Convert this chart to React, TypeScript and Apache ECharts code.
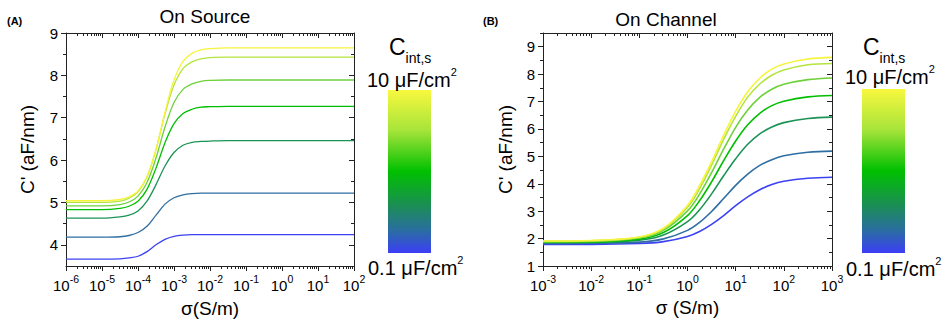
import React, { useEffect, useRef } from "react";
import * as echarts from "echarts";

// ---- Data ----
const curveNames = ["10 μF/cm²", "5 μF/cm²", "2 μF/cm²", "1 μF/cm²", "0.5 μF/cm²", "0.2 μF/cm²", "0.1 μF/cm²"];
const curveColors = ["#f6f43c", "#b4e43e", "#6ed13a", "#00bf00", "#1c9356", "#2f6ea2", "#3c42f2"];

// Panel A (On Source): log10(σ) sample points
const expA = [-6, -5, -4.5, -4.25, -4, -3.75, -3.5, -3.25, -3, -2.75, -2.5, -2.25, -2, -1.5, -1, 0, 1, 2];
const a10 = [5.04, 5.04, 5.07, 5.13, 5.27, 5.61, 6.25, 7.13, 7.89, 8.33, 8.52, 8.6, 8.63, 8.65, 8.65, 8.65, 8.65, 8.65];
const a5 = [5.0, 5.0, 5.03, 5.1, 5.25, 5.6, 6.25, 7.09, 7.77, 8.16, 8.32, 8.39, 8.42, 8.43, 8.43, 8.43, 8.43, 8.43];
const a2 = [4.92, 4.92, 4.95, 5.01, 5.15, 5.47, 6.05, 6.78, 7.36, 7.67, 7.8, 7.86, 7.88, 7.89, 7.89, 7.89, 7.89, 7.89];
const a1 = [4.83, 4.83, 4.86, 4.91, 5.03, 5.31, 5.81, 6.41, 6.86, 7.1, 7.2, 7.25, 7.26, 7.27, 7.27, 7.27, 7.27, 7.27];
const a05 = [4.63, 4.63, 4.66, 4.7, 4.8, 5.03, 5.42, 5.86, 6.18, 6.35, 6.42, 6.44, 6.45, 6.46, 6.46, 6.46, 6.46, 6.46];
const a02 = [4.18, 4.18, 4.19, 4.22, 4.29, 4.44, 4.7, 4.96, 5.11, 5.18, 5.21, 5.22, 5.22, 5.22, 5.22, 5.22, 5.22, 5.22];
const a01 = [3.66, 3.66, 3.67, 3.69, 3.73, 3.84, 4.0, 4.13, 4.2, 4.23, 4.24, 4.24, 4.24, 4.24, 4.24, 4.24, 4.24, 4.24];

// Panel B (On Channel)
const expB = [-3, -2, -1, -0.5, 0, 0.25, 0.5, 0.75, 1, 1.25, 1.5, 1.75, 2, 2.5, 3];
const b10 = [1.91, 1.93, 2.06, 2.38, 3.21, 3.93, 4.8, 5.77, 6.65, 7.36, 7.85, 8.18, 8.37, 8.55, 8.61];
const b5 = [1.9, 1.92, 2.05, 2.35, 3.14, 3.82, 4.68, 5.62, 6.46, 7.16, 7.64, 7.96, 8.15, 8.34, 8.39];
const b2 = [1.89, 1.9, 2.02, 2.3, 3.01, 3.62, 4.41, 5.26, 6.06, 6.69, 7.15, 7.45, 7.63, 7.8, 7.86];
const b1 = [1.87, 1.88, 1.98, 2.22, 2.84, 3.38, 4.07, 4.84, 5.56, 6.15, 6.57, 6.85, 7.01, 7.17, 7.22];
const b05 = [1.85, 1.86, 1.94, 2.13, 2.62, 3.05, 3.63, 4.29, 4.91, 5.44, 5.82, 6.07, 6.23, 6.38, 6.43];
const b02 = [1.82, 1.83, 1.87, 1.99, 2.3, 2.59, 2.99, 3.46, 3.94, 4.35, 4.67, 4.88, 5.02, 5.15, 5.19];
const b01 = [1.79, 1.79, 1.82, 1.89, 2.08, 2.26, 2.52, 2.84, 3.2, 3.52, 3.78, 3.97, 4.09, 4.2, 4.24];

// Axis ticks
const decadesA = [-6, -5, -4, -3, -2, -1, 0, 1, 2];
const decadesB = [-3, -2, -1, 0, 1, 2, 3];
const minorMult = [2, 3, 4, 5, 6, 7, 8, 9];
const yMajorA = [4, 5, 6, 7, 8, 9];
const yMinorA = [4.5, 5.5, 6.5, 7.5, 8.5];
const yMajorB = [1, 2, 3, 4, 5, 6, 7, 8, 9];
const yMinorB = [1.5, 2.5, 3.5, 4.5, 5.5, 6.5, 7.5, 8.5, 9.5];

const FONT = "'Liberation Sans', Arial, sans-serif";

function majors(decs: number[]) {
  return decs.map((d) => Math.pow(10, d));
}
function minors(decs: number[]) {
  const out: number[] = [];
  for (let i = 0; i < decs.length - 1; i++) {
    for (const m of minorMult) out.push(m * Math.pow(10, decs[i]));
  }
  return out;
}

const axisLineStyle = { color: "#222", width: 1 };

function xAxes(grid: number, decs: number[], name: string, nameGap: number) {
  const min = Math.pow(10, decs[0]);
  const max = Math.pow(10, decs[decs.length - 1]);
  const base = {
    type: "log" as const,
    logBase: 10,
    gridIndex: grid,
    min,
    max,
    splitLine: { show: false },
    minorTick: { show: false },
    minorSplitLine: { show: false },
  };
  return [
    {
      ...base,
      position: "bottom",
      axisLine: { show: true, onZero: false, lineStyle: axisLineStyle },
      axisTick: { show: true, inside: false, length: 5, customValues: majors(decs), lineStyle: axisLineStyle },
      axisLabel: {
        show: true,
        margin: 7,
        customValues: majors(decs),
        color: "#000",
        formatter: (v: number) => `{b|10}{s|${Math.round(Math.log10(v))}}`,
        rich: {
          b: { fontSize: 15, fontFamily: FONT, color: "#000", verticalAlign: "bottom", lineHeight: 20 },
          s: { fontSize: 10.5, fontFamily: FONT, color: "#000", verticalAlign: "top", lineHeight: 11 },
        },
      },
      name,
      nameLocation: "middle",
      nameGap,
      nameTextStyle: { fontSize: 19, fontFamily: FONT, color: "#000" },
    },
    {
      ...base,
      position: "bottom",
      axisLine: { show: false, onZero: false },
      axisTick: { show: true, inside: false, length: 3, customValues: minors(decs), lineStyle: axisLineStyle },
      axisLabel: { show: false },
    },
    {
      ...base,
      position: "top",
      axisLine: { show: true, onZero: false, lineStyle: axisLineStyle },
      axisTick: { show: true, inside: true, length: 5, customValues: majors(decs), lineStyle: axisLineStyle },
      axisLabel: { show: false },
    },
    {
      ...base,
      position: "top",
      axisLine: { show: false, onZero: false },
      axisTick: { show: true, inside: true, length: 3, customValues: minors(decs), lineStyle: axisLineStyle },
      axisLabel: { show: false },
    },
  ];
}

function yAxes(grid: number, min: number, max: number, maj: number[], mino: number[], nameGap: number) {
  const base = {
    type: "value" as const,
    gridIndex: grid,
    min,
    max,
    interval: 0.5,
    splitLine: { show: false },
  };
  return [
    {
      ...base,
      position: "left",
      axisLine: { show: true, onZero: false, lineStyle: axisLineStyle },
      axisTick: { show: true, inside: false, length: 5, customValues: maj, lineStyle: axisLineStyle },
      axisLabel: { show: true, customValues: maj, margin: 8, fontSize: 15, fontFamily: FONT, color: "#000" },
      name: "C' (aF/nm)",
      nameLocation: "middle",
      nameGap,
      nameRotate: 90,
      nameTextStyle: { fontSize: 19, fontFamily: FONT, color: "#000" },
    },
    {
      ...base,
      position: "left",
      axisLine: { show: false, onZero: false },
      axisTick: { show: true, inside: false, length: 3, customValues: mino, lineStyle: axisLineStyle },
      axisLabel: { show: false },
    },
    {
      ...base,
      position: "right",
      axisLine: { show: true, onZero: false, lineStyle: axisLineStyle },
      axisTick: { show: true, inside: true, length: 5, customValues: maj, lineStyle: axisLineStyle },
      axisLabel: { show: false },
    },
    {
      ...base,
      position: "right",
      axisLine: { show: false, onZero: false },
      axisTick: { show: true, inside: true, length: 3, customValues: mino, lineStyle: axisLineStyle },
      axisLabel: { show: false },
    },
  ];
}

function makeSeries(exps: number[], curves: number[][], xIdx: number, yIdx: number, width: number) {
  return curves.map((vals, i) => ({
    type: "line",
    name: curveNames[i],
    xAxisIndex: xIdx,
    yAxisIndex: yIdx,
    data: exps.map((e, k) => [Math.pow(10, e), vals[k]]),
    showSymbol: false,
    smooth: 0.35,
    lineStyle: { color: curveColors[i], width },
    itemStyle: { color: curveColors[i] },
    z: 10 - i,
  }));
}

const gradient = {
  type: "linear",
  x: 0,
  y: 0,
  x2: 0,
  y2: 1,
  colorStops: [
    { offset: 0, color: "#f8f83e" },
    { offset: 0.25, color: "#a6e43a" },
    { offset: 0.5, color: "#00c000" },
    { offset: 0.7, color: "#1a9050" },
    { offset: 0.86, color: "#2a6ea0" },
    { offset: 1, color: "#3c3ef6" },
  ],
};

const unitRich = {
  n: { fontSize: 20, fontFamily: FONT, fill: "#000", verticalAlign: "bottom", lineHeight: 24 },
  s: { fontSize: 11, fontFamily: FONT, fill: "#000", verticalAlign: "top", lineHeight: 13 },
};
const cRich = {
  c: { fontSize: 23, fontFamily: FONT, fill: "#000", verticalAlign: "top", lineHeight: 24 },
  s: { fontSize: 14, fontFamily: FONT, fill: "#000", verticalAlign: "bottom", lineHeight: 30 },
};

function colorbar(x: number, y: number, h: number, tx: number, cx: number, topY: number, botY: number) {
  return [
    { type: "rect", shape: { x, y, width: 43, height: h }, style: { fill: gradient } },
    {
      type: "text",
      x: cx,
      y: 50,
      style: { text: "{c|C}{s|int,s}", rich: cRich, verticalAlign: "middle", align: "left" },
    },
    {
      type: "text",
      x: tx,
      y: topY,
      style: { text: "{n|10 μF/cm}{s|2}", rich: unitRich, verticalAlign: "middle", align: "left" },
    },
    {
      type: "text",
      x: tx + 1,
      y: botY,
      style: { text: "{n|0.1 μF/cm}{s|2}", rich: unitRich, verticalAlign: "middle", align: "left" },
    },
  ];
}

export default function App() {
  const ref = useRef<HTMLDivElement>(null);
  useEffect(() => {
    if (!ref.current) return;
    const chart = echarts.init(ref.current, undefined, { renderer: "svg" });
    const option = {
      animation: false,
      backgroundColor: "#fff",
      textStyle: { fontFamily: FONT },
      grid: [
        { left: 66, top: 33, width: 288, height: 233 },
        { left: 543, top: 33, width: 289, height: 233 },
      ],
      xAxis: [...xAxes(0, decadesA, "σ(S/m)", 33), ...xAxes(1, decadesB, "σ (S/m)", 28)],
      yAxis: [...yAxes(0, 3.5, 9, yMajorA, yMinorA, 29), ...yAxes(1, 1, 9.5, yMajorB, yMinorB, 28)],
      series: [
        ...makeSeries(expA, [a10, a5, a2, a1, a05, a02, a01], 0, 0, 1.3),
        ...makeSeries(expB, [b10, b5, b2, b1, b05, b02, b01], 4, 4, 1.6),
      ],
      graphic: [
        { type: "text", x: 7, y: 21, style: { text: "(A)", fontSize: 11, fontWeight: "bold", fontFamily: FONT, fill: "#000", verticalAlign: "middle" } },
        { type: "text", x: 483, y: 21, style: { text: "(B)", fontSize: 11, fontWeight: "bold", fontFamily: FONT, fill: "#000", verticalAlign: "middle" } },
        { type: "text", x: 205, y: 16, style: { text: "On Source", fontSize: 19, fontFamily: FONT, fill: "#000", align: "center", verticalAlign: "middle" } },
        { type: "text", x: 666, y: 19, style: { text: "On Channel", fontSize: 19, fontFamily: FONT, fill: "#000", align: "center", verticalAlign: "middle" } },
        ...colorbar(388, 90, 163, 367, 389, 78, 266),
        ...colorbar(862, 89, 164, 845, 863, 75, 267),
      ],
    };
    chart.setOption(option as any);
    return () => chart.dispose();
  }, []);
  return <div ref={ref} style={{ position: "fixed", left: 0, top: 0, width: 950, height: 324 }} />;
}
